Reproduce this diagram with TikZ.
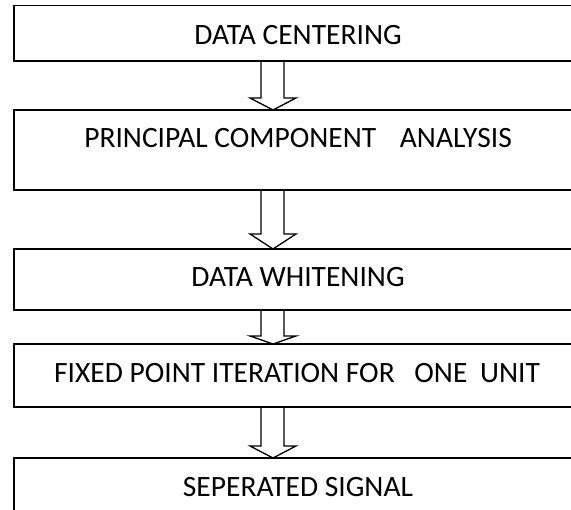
\documentclass[tikz,border=0pt]{standalone}
\usepackage{fontspec}
\setmainfont{Carlito}
\usetikzlibrary{calc}
\newcommand\flowarrow[3]{%
  \draw[blockarrow] ($(#1.south)+(-37,0)$) -- ($(#2.north)+(-37,#3)$)
    -- ($(#2.north)+(-48,#3)$) -- ($(#2.north)+(-25,0)$)
    -- ($(#2.north)+(-2,#3)$) -- ($(#2.north)+(-14,#3)$)
    -- ($(#1.south)+(-14,0)$);}
\begin{document}
\begin{tikzpicture}[x=1pt,y=1pt,
  box/.style={draw=black, line width=1.3pt, minimum width=568pt, inner sep=0pt, outer sep=0pt},
  lbl/.style={anchor=base, inner sep=0pt, font=\fontsize{29.5}{34}\selectfont},
  blockarrow/.style={draw=black, line width=1.3pt, line join=miter}]
\useasboundingbox (0,0) rectangle (571,510);
\clip (0,0) rectangle (571,510);
\node[box, minimum height=55.3pt] (b1) at (298,476.65) {};
\node[box, minimum height=80pt] (b2) at (298,360) {};
\node[box, minimum height=61pt] (b3) at (298,230.5) {};
\node[box, minimum height=63pt] (b4) at (298,134.5) {};
\node[box, minimum height=72pt] (b5) at (298,16) {};
\node[lbl] (t1) at (298,465) {DATA CENTERING};
\node[lbl] (t2) at (298,362) {PRINCIPAL COMPONENT\hspace{17pt} ANALYSIS};
\node[lbl] (t3) at (298,223) {DATA WHITENING};
\node[lbl] (t4) at (297,127) {FIXED POINT ITERATION FOR\hspace{13pt} ONE\hspace{6pt} UNIT};
\node[lbl] (t5) at (298,13) {SEPERATED SIGNAL};
\flowarrow{b1}{b2}{12}
\flowarrow{b2}{b3}{15}
\flowarrow{b3}{b4}{8}
\flowarrow{b4}{b5}{12}
\end{tikzpicture}
\end{document}
